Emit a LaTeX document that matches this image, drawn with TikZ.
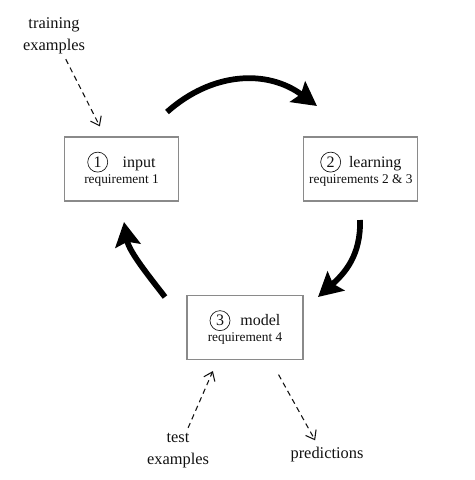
\documentclass[tikz,border=0pt]{standalone}
\usepackage{fontspec}
\setmainfont{Liberation Serif}
\usetikzlibrary{arrows.meta, positioning, calc}
\definecolor{frame}{HTML}{8A8A8A}
\definecolor{ink}{HTML}{111111}
\newcommand{\stepnum}[1]{\tikz[baseline=(num.base)]\node[circle, draw=ink, line width=0.5pt,
  minimum size=15pt, inner sep=0pt, font=\fontsize{12}{12}\selectfont] (num) {#1};}
\newcommand{\req}[1]{{\fontsize{10}{12}\selectfont #1}}
\tikzset{
  stage/.style = {draw=frame, line width=0.8pt, rectangle, align=center, text=ink,
                  minimum height=48pt, inner sep=2pt, font=\fontsize{12}{12}\selectfont},
  note/.style  = {align=center, inner sep=0pt, text=ink, font=\fontsize{12.3}{16.5}\selectfont},
  feed/.style  = {draw=ink, dash pattern=on 4pt off 3pt, line width=0.8pt,
                  -{Straight Barb[length=6pt, width=9pt]}},
  cycle/.style = {draw=black, line width=4.3pt, -{Stealth[length=18pt, width=19pt, inset=3pt]}},
}
\begin{document}
\begin{tikzpicture}[x=0.75pt, y=-0.75pt]
  \useasboundingbox (0,0) rectangle (475,480);

  % stages
  \node[stage, minimum width=86pt] (input) at (121.5,169)
    {\stepnum{1}\hspace{11pt}input\\\req{requirement 1}};
  \node[stage, minimum width=85.5pt, right=93pt of input] (learning)
    {\stepnum{2}\hspace{6pt}learning\\\req{requirements 2 \& 3}};
  \node[stage, minimum width=87pt] (model) at (245,327.5)
    {\stepnum{3}\hspace{7.5pt}model\\\req{requirement 4}};

  % data in and out
  \node[note] (train) at (54,36) {training\\examples};
  \node[note] (test) at (178,451) {test\\examples};
  \node[note] (predictions) at (327,455) {predictions};

  \draw[feed, shorten <=4pt, shorten >=8.5pt] (train) -- (input);
  \draw[feed, shorten <=4.5pt, shorten >=9pt] (test) -- (model.230);
  \draw[feed, shorten <=12.5pt, shorten >=6pt] (model.308) -- (predictions.136);

  % the loop
  \coordinate (loopA) at (167,112);
  \coordinate (loopB) at (317,106);
  \coordinate (loopC) at (360,220);
  \coordinate (loopD) at (318,297);
  \coordinate (loopE) at (165,297);
  \coordinate (loopF) at (124,222);
  \draw[cycle] (loopA) .. controls (212,72) and (267,69) .. (loopB);
  \draw[cycle] (loopC) .. controls (361,255) and (345,273) .. (loopD);
  \draw[cycle] (loopE) .. controls (152,280) and (129,252) .. (loopF);
\end{tikzpicture}
\end{document}
